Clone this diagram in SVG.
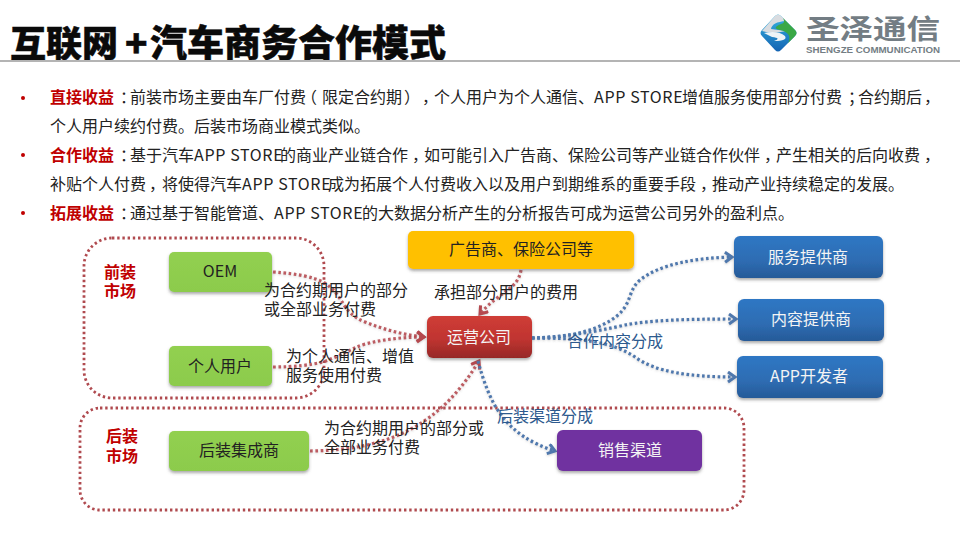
<svg xmlns="http://www.w3.org/2000/svg" width="960" height="540" viewBox="0 0 960 540">
<style>
text{font-family:"Noto Sans CJK SC","Microsoft YaHei","Liberation Sans",sans-serif;fill:#222}
.t{font-size:16px}
.h{font-feature-settings:"halt"}
.r{font-size:16px;font-weight:700;fill:#c00000}
.n{font-size:16px;text-anchor:middle}
.w{fill:#f4f4f4}
.lb{font-size:16px;fill:#222}
.bl{font-size:16px;fill:#2d5a8e}
.mk{font-size:16px;font-weight:700;fill:#c00000;text-anchor:middle}
.ap{letter-spacing:.65px}
.gp{fill:none;stroke:#b04a4f;stroke-width:2.8;stroke-dasharray:2.4 2.8}
.cr{fill:none;stroke:#b5494f;stroke-width:3.2;stroke-dasharray:2.6 2.6;stroke-opacity:.88}
.cb{fill:none;stroke:#4f78ad;stroke-width:3.2;stroke-dasharray:2.6 2.6}
</style>
<defs>
<linearGradient id="gr" x1="0" y1="0" x2="0" y2="1"><stop offset="0" stop-color="#cf3d37"/><stop offset=".55" stop-color="#c03430"/><stop offset="1" stop-color="#962828"/></linearGradient>
<linearGradient id="gb" x1="0" y1="0" x2="0" y2="1"><stop offset="0" stop-color="#2f77c4"/><stop offset=".6" stop-color="#2e6cb2"/><stop offset="1" stop-color="#265a98"/></linearGradient>
<linearGradient id="gg" x1="0" y1="0" x2="0" y2="1"><stop offset="0" stop-color="#92d050"/><stop offset="1" stop-color="#8ccb4c"/></linearGradient>
<linearGradient id="lg" x1="0" y1="0" x2="0" y2="1"><stop offset="0" stop-color="#35b4e0"/><stop offset="1" stop-color="#1463b3"/></linearGradient>
<filter id="s" x="-10%" y="-20%" width="120%" height="150%"><feDropShadow dx="0" dy="2" stdDeviation="1.6" flood-color="#555" flood-opacity=".5"/></filter>
<filter id="ls" x="-5%" y="-5%" width="110%" height="110%"><feDropShadow dx="0" dy="1" stdDeviation=".8" flood-color="#666" flood-opacity=".3"/></filter>
<marker id="ar" markerWidth="14" markerHeight="14" refX="9" refY="6" orient="auto" markerUnits="userSpaceOnUse"><path d="M2 1 L9 6 L2 11" fill="none" stroke="#b5494f" stroke-width="3"/></marker>
<marker id="ab" markerWidth="14" markerHeight="14" refX="9" refY="6" orient="auto" markerUnits="userSpaceOnUse"><path d="M2 1 L9 6 L2 11" fill="none" stroke="#4f78ad" stroke-width="3"/></marker>
</defs>
<rect width="960" height="540" fill="#fff"/>

<g id="title">
<text y="57" style="font-size:37px;font-weight:900;fill:#0a0a0a;stroke:#0a0a0a;stroke-width:.5"><tspan x="10" style="font-size:36px">互联网</tspan><tspan x="125">+</tspan><tspan x="150">汽车商务合作模式</tspan></text>
<rect x="0" y="60" width="960" height="2" fill="#b4b4b4"/>
</g>

<g id="logo">
<path d="M775 16 Q778 13 781 16 L795 30 Q798 33 795 36 L781 50 Q778 53 775 50 L762 36 Q759 33 762 30 Z" fill="url(#lg)"/>
<path d="M775 16 Q778 13 781 16 L786 21 Q772 22 771 29 L786 31 Q772 34 762 31 Z" fill="#d9dce0"/>
<path d="M783 18 L795 30 Q798 33 795 36 L788 43 Q793 33 780 30 Q771 28 781 24 Q786 23 783 18 Z" fill="#3aa845"/>
<path d="M764 33 Q778 30 785 36 Q788 41 774 41 Q782 38 772 37 Z" fill="#eef3f6"/>
<text x="806" y="39" style="font-size:27px;font-weight:700;fill:#737d84" textLength="134" lengthAdjust="spacingAndGlyphs">圣泽通信</text>
<text x="806" y="53" style="font-size:9.5px;font-weight:700;fill:#737d84;font-family:'Liberation Sans',sans-serif" textLength="134" lengthAdjust="spacingAndGlyphs">SHENGZE COMMUNICATION</text>
</g>

<g id="body">
<circle cx="23" cy="98" r="2" fill="#c00000"/>
<circle cx="23" cy="155" r="2" fill="#c00000"/>
<circle cx="23" cy="213" r="2" fill="#c00000"/>
<text class="r" x="50" y="103">直接收益</text>
<text class="t" y="103"><tspan class="h" x="120">：</tspan><tspan x="130">前装市场主要由车厂付费</tspan><tspan class="h" x="309">（</tspan><tspan x="322">限定合约期</tspan><tspan class="h" x="404">）</tspan><tspan class="h" x="422">，</tspan><tspan x="434">个人用户为个人通信、</tspan><tspan class="ap" x="594">APP STORE</tspan><tspan x="682">增值服务使用部分付费</tspan><tspan class="h" x="848">；</tspan><tspan x="858">合约期后</tspan><tspan class="h" x="924">，</tspan></text>
<text class="t" x="50" y="132">个人用户续约付费。后装市场商业模式类似。</text>
<text class="r" x="50" y="161">合作收益</text>
<text class="t" y="161"><tspan class="h" x="120">：</tspan><tspan x="130">基于汽车</tspan><tspan class="ap" x="194">APP STORE</tspan><tspan x="280">的商业产业链合作</tspan><tspan class="h" x="412">，</tspan><tspan x="424">如可能引入广告商、保险公司等产业链合作伙伴</tspan><tspan class="h" x="764">，</tspan><tspan x="776">产生相关的后向收费</tspan><tspan class="h" x="924">，</tspan></text>
<text class="t" y="190"><tspan x="50">补贴个人付费</tspan><tspan class="h" x="149">，</tspan><tspan x="162">将使得汽车</tspan><tspan class="ap" x="242">APP STORE</tspan><tspan x="328">成为拓展个人付费收入以及用户到期维系的重要手段</tspan><tspan class="h" x="700">，</tspan><tspan x="712">推动产业持续稳定的发展。</tspan></text>
<text class="r" x="50" y="219">拓展收益</text>
<text class="t" y="219"><tspan class="h" x="120">：</tspan><tspan x="130">通过基于智能管道、</tspan><tspan class="ap" x="274">APP STORE</tspan><tspan x="362">的大数据分析产生的分析报告可成为运营公司另外的盈利点。</tspan></text>
</g>

<g id="group-front">
<rect class="gp" x="84" y="238" width="240" height="160" rx="28"/>
<text class="mk" y="278"><tspan x="120">前装</tspan><tspan x="120" y="297">市场</tspan></text>
</g>
<g id="group-after">
<rect class="gp" x="80" y="408" width="664" height="102" rx="20"/>
<text class="mk" y="442"><tspan x="122">后装</tspan><tspan x="122" y="462">市场</tspan></text>
</g>

<g id="connectors" filter="url(#ls)">
<path class="cr" d="M273 272 C300 274 312 277 323 282 C345 295 340 312 365 322 C385 330 405 335 424 337" marker-end="url(#ar)"/>
<path class="cr" d="M273 367 C295 367 310 365 323 362 C345 354 350 349 365 344 C385 339 405 337 424 337" marker-end="url(#ar)"/>
<path class="cr" d="M310 451 C390 450 440 425 479 361" marker-end="url(#ar)"/>
<path class="cr" d="M521 270 C518 290 498 292 480 314" marker-end="url(#ar)"/>
<path class="cb" d="M532 338 C570 338 600 330 618 315 C632 303 628 290 640 280 C660 264 695 258 732 257" marker-end="url(#ab)"/>
<path class="cb" d="M532 338 C560 337 590 333 625 325 C650 320 690 319 736 319" marker-end="url(#ab)"/>
<path class="cb" d="M532 338 C575 338 610 340 635 357 C655 372 690 377 735 377" marker-end="url(#ab)"/>
<path class="cb" d="M478 361 C490 405 505 435 555 451" marker-end="url(#ab)"/>
</g>

<g id="oem"><rect x="169" y="252" width="103" height="40" rx="5" fill="url(#gg)" filter="url(#s)"/><text class="n" x="220" y="277">OEM</text></g>
<g id="personal"><rect x="169" y="346" width="103" height="40" rx="5" fill="url(#gg)" filter="url(#s)"/><text class="n" x="220" y="372">个人用户</text></g>
<g id="integrator"><rect x="169" y="431" width="140" height="40" rx="5" fill="url(#gg)" filter="url(#s)"/><text class="n" x="239" y="456">后装集成商</text></g>
<g id="advertiser"><rect x="408" y="231" width="226" height="38" rx="5" fill="#ffc000" filter="url(#s)"/><text class="n" x="521" y="255">广告商、保险公司等</text></g>
<g id="operator"><rect x="427" y="316" width="105" height="42" rx="6" fill="url(#gr)" filter="url(#s)"/><text class="n w" x="479" y="343">运营公司</text></g>
<g id="service"><rect x="734" y="236" width="149" height="42" rx="6" fill="url(#gb)" filter="url(#s)"/><text class="n w" x="808" y="263">服务提供商</text></g>
<g id="content"><rect x="738" y="299" width="146" height="42" rx="6" fill="url(#gb)" filter="url(#s)"/><text class="n w" x="811" y="325">内容提供商</text></g>
<g id="app"><rect x="737" y="356" width="146" height="42" rx="6" fill="url(#gb)" filter="url(#s)"/><text class="n w" x="809" y="382">APP开发者</text></g>
<g id="channel"><rect x="557" y="430" width="145" height="41" rx="6" fill="#7030a0" filter="url(#s)"/><text class="n w" x="630" y="456">销售渠道</text></g>

<g id="labels">
<text class="lb" y="296"><tspan x="264">为合约期用户的部分</tspan><tspan x="264" y="315">或全部业务付费</tspan></text>
<text class="lb" y="362"><tspan x="286">为个人通信、增值</tspan><tspan x="286" y="381">服务使用付费</tspan></text>
<text class="lb" y="434"><tspan x="324">为合约期用户的部分或</tspan><tspan x="324" y="453">全部业务付费</tspan></text>
<text class="lb" x="434" y="298">承担部分用户的费用</text>
<text class="bl" x="567" y="347">合作内容分成</text>
<text class="bl" x="497" y="422">后装渠道分成</text>
</g>
</svg>
